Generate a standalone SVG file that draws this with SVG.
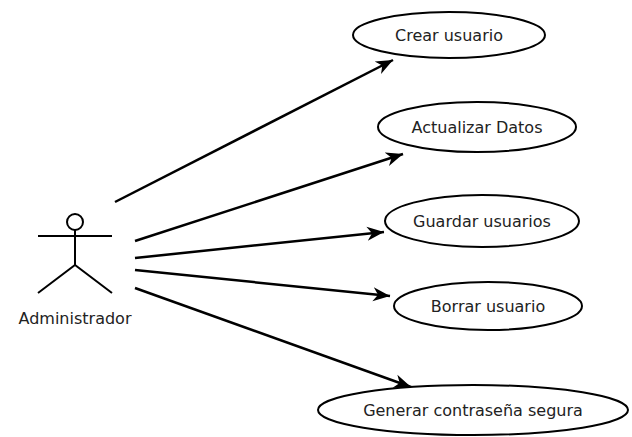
<svg xmlns="http://www.w3.org/2000/svg" width="632" height="437" viewBox="0 0 632 437">
<style>
.u{fill:#fff;stroke:#000;stroke-width:2}
.t{font-family:"DejaVu Sans",sans-serif;font-size:16px;fill:#222;text-anchor:middle;dominant-baseline:central}
.c{stroke:#000;stroke-width:2.5;fill:none;marker-end:url(#a)}
.s{stroke:#000;stroke-width:2;fill:none}
</style>
<defs>
<marker id="a" markerWidth="20" markerHeight="16" refX="17" refY="8" orient="auto" markerUnits="userSpaceOnUse">
<path d="M0,1 L17,8 L0,15 L5,8 Z" fill="#000"/>
</marker>
</defs>
<rect width="632" height="437" fill="#fff"/>
<g id="actor">
<circle cx="75" cy="222" r="8" class="s" fill="#fff"/>
<line x1="75" y1="230" x2="75" y2="265" class="s"/>
<line x1="38" y1="236" x2="112" y2="236" class="s"/>
<path d="M38,293 L75,265 L112,293" class="s"/>
<text x="75" y="318" class="t">Administrador</text>
</g>
<g id="connectors">
<line x1="115" y1="202" x2="393" y2="60" class="c"/>
<line x1="135" y1="241" x2="403" y2="154" class="c"/>
<line x1="135" y1="258" x2="384" y2="232" class="c"/>
<line x1="135" y1="270" x2="390" y2="296" class="c"/>
<line x1="135" y1="288" x2="411" y2="387" class="c"/>
</g>
<g id="uc1"><ellipse cx="449" cy="35" rx="96" ry="23" class="u"/><text x="449" y="35" class="t">Crear usuario</text></g>
<g id="uc2"><ellipse cx="477" cy="127" rx="99" ry="25" class="u"/><text x="477" y="127" class="t">Actualizar Datos</text></g>
<g id="uc3"><ellipse cx="482" cy="221" rx="97" ry="26" class="u"/><text x="482" y="221" class="t">Guardar usuarios</text></g>
<g id="uc4"><ellipse cx="488" cy="306" rx="94" ry="24" class="u"/><text x="488" y="306" class="t">Borrar usuario</text></g>
<g id="uc5"><ellipse cx="473" cy="410" rx="155" ry="25" class="u"/><text x="473" y="410" class="t">Generar contraseña segura</text></g>
</svg>
